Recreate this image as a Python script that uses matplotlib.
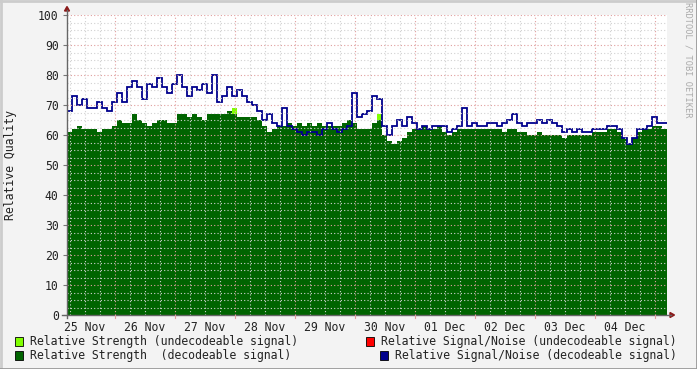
import numpy as np
import matplotlib
matplotlib.use("Agg")
import matplotlib.pyplot as plt
from matplotlib.patches import Rectangle, Polygon
from matplotlib.lines import Line2D

# ---- data (2-hour steps starting 25 Nov 04:48) ----
strength_decodeable = [
    61, 62, 63, 62, 62, 62, 61, 62, 62, 63, 65, 64, 64, 67, 65, 64, 63, 64, 65, 65,
    64, 64, 67, 67, 66, 67, 66, 65, 67, 67, 67, 67, 68, 67, 66, 66, 66, 66, 65, 63,
    61, 62, 63, 63, 64, 63, 64, 63, 64, 63, 64, 63, 63, 63, 63, 64, 65, 64, 62, 62,
    62, 64, 65, 60, 58, 57, 58, 59, 61, 62, 62, 63, 62, 62, 63, 61, 60, 61, 62, 62,
    62, 62, 62, 62, 62, 62, 62, 61, 62, 62, 61, 61, 60, 60, 61, 60, 60, 60, 60, 59,
    60, 60, 60, 60, 60, 61, 61, 61, 62, 62, 61, 59, 57, 59, 61, 62, 62, 63, 63, 62,
]
snr_decodeable = [
    68, 73, 70, 72, 69, 69, 71, 69, 68, 71, 74, 71, 76, 78, 76, 72, 77, 76, 79, 76,
    74, 77, 80, 76, 73, 76, 75, 77, 74, 80, 71, 73, 76, 73, 75, 73, 71, 70, 68, 65,
    67, 64, 63, 69, 63, 62, 61, 60, 61, 61, 60, 62, 64, 62, 61, 62, 63, 74, 66, 67,
    68, 73, 72, 63, 60, 63, 65, 63, 66, 64, 62, 63, 62, 63, 63, 63, 61, 62, 63, 69,
    63, 64, 63, 63, 64, 64, 63, 64, 65, 67, 64, 63, 64, 64, 65, 64, 65, 64, 63, 61,
    62, 61, 62, 61, 61, 62, 62, 62, 63, 63, 62, 59, 57, 59, 62, 62, 63, 66, 64, 64,
]
strength_undecodeable = [
    0, 0, 0, 0, 0, 0, 0, 0, 0, 0, 0, 0, 0, 0, 0, 0, 0, 0, 0, 0,
    0, 0, 0, 0, 0, 0, 0, 0, 0, 0, 0, 0, 0, 69, 0, 0, 0, 0, 0, 0,
    0, 0, 0, 0, 0, 0, 0, 0, 0, 0, 0, 0, 0, 0, 0, 0, 0, 0, 0, 0,
    0, 0, 67, 0, 0, 0, 0, 0, 0, 0, 0, 0, 0, 0, 0, 0, 0, 0, 0, 0,
    0, 0, 0, 0, 0, 0, 0, 0, 0, 0, 0, 0, 0, 0, 0, 0, 0, 0, 0, 0,
    0, 0, 0, 0, 0, 0, 0, 0, 0, 0, 0, 0, 0, 0, 0, 0, 0, 0, 0, 0,
]
snr_undecodeable = [0] * 120

day_labels = ["25 Nov", "26 Nov", "27 Nov", "28 Nov", "29 Nov",
              "30 Nov", "01 Dec", "02 Dec", "03 Dec", "04 Dec"]
y_ticks = [0, 10, 20, 30, 40, 50, 60, 70, 80, 90, 100]

t_start, t_end = 0.2, 10.2  # days since 25 Nov 00:00
edges = np.linspace(t_start, t_end, len(strength_decodeable) + 1)

W, H = 697, 369
BG = "#F3F3F3"
fig = plt.figure(figsize=(W / 100, H / 100), dpi=100, facecolor=BG)

def fx(x):
    return x / W

def fy(y):
    return 1 - y / H

x0, x1, ytop, ybot = 67, 667, 15, 315
ax = fig.add_axes([fx(x0), fy(ybot), fx(x1) - fx(x0), fy(ytop) - fy(ybot)])
ax.set_facecolor("white")
ax.set_xlim(t_start, t_end)
ax.set_ylim(0, 100)
for s in ax.spines.values():
    s.set_visible(False)

mono = "DejaVu Sans Mono"
fs = 8.3

# data
und = np.array(strength_undecodeable, dtype=float)
ax.stairs(und, edges, fill=True, color="#80FF00", baseline=0, zorder=1)
ax.stairs(strength_decodeable, edges, fill=True, color="#006400", baseline=0, zorder=2)
ax.stairs(snr_undecodeable, edges, color="#FF0000", linewidth=0, baseline=None, zorder=2.5)
ax.stairs(snr_decodeable, edges, color="#00008C", linewidth=1.3, baseline=None, zorder=3)

# grid (drawn on top like rrdtool)
minor_col = (0.82, 0.82, 0.82)
major_col = (0.88, 0.62, 0.62)
for v in np.arange(0, 100.01, 2.5):
    if v % 10 != 0:
        ax.axhline(v, color=minor_col, lw=0.8, ls=(0, (1, 2)), zorder=4)
for v in np.arange(0.25, 10.21, 0.25):
    if abs(v - round(v)) > 1e-6:
        ax.axvline(v, color=minor_col, lw=0.8, ls=(0, (1, 2)), zorder=4)
for v in y_ticks[1:]:
    ax.axhline(v, color=major_col, lw=0.8, ls=(0, (1, 2)), zorder=4.5)
for d in range(1, 11):
    ax.axvline(d, color=major_col, lw=0.8, ls=(0, (1, 2)), zorder=4.5)

# ticks
ax.set_yticks(y_ticks)
ax.set_yticklabels([str(v) for v in y_ticks], fontfamily=mono, fontsize=fs, color="#222222")
ax.tick_params(axis="y", length=3, width=0.8, color="#777777", pad=3)
ax.set_xticks(np.arange(0.5, 10, 1.0))
ax.set_xticklabels(day_labels, fontfamily=mono, fontsize=fs, color="#222222")
ax.tick_params(axis="x", length=0, pad=4)

# axis lines and arrows
axis_col = "#666666"
arrow_col = "#8B1A1A"
fig.add_artist(Line2D([fx(x0), fx(x0)], [fy(318), fy(10)], color=axis_col, lw=1.0))
fig.add_artist(Line2D([fx(62), fx(671)], [fy(ybot), fy(ybot)], color=axis_col, lw=1.0))
fig.add_artist(Polygon([[fx(64.5), fy(11)], [fx(69.5), fy(11)], [fx(67), fy(6.5)]],
                       closed=True, color=arrow_col, transform=fig.transFigure))
fig.add_artist(Polygon([[fx(670), fy(312.5)], [fx(670), fy(317.5)], [fx(674.5), fy(315)]],
                       closed=True, color=arrow_col, transform=fig.transFigure))
for d in range(1, 11):
    xp = x0 + (d - t_start) / (t_end - t_start) * (x1 - x0)
    fig.add_artist(Line2D([fx(xp), fx(xp)], [fy(315), fy(318)], color=major_col, lw=0.8))

# y label
fig.text(fx(11), fy(165), "Relative Quality", rotation=90, ha="center", va="center",
         fontfamily=mono, fontsize=fs, color="#222222")

# watermark
fig.text(fx(688), fy(60), "RRDTOOL / TOBI OETIKER", rotation=-90, ha="center", va="center",
         fontfamily=mono, fontsize=6.2, color="#AAAAAA")

# legend
def legend_item(xs, yc, color, label):
    fig.add_artist(Rectangle((fx(xs), fy(yc + 4.5)), 8 / W, 9 / H, facecolor=color,
                             edgecolor="black", lw=0.6, transform=fig.transFigure))
    fig.text(fx(xs + 15), fy(yc), label, ha="left", va="center",
             fontfamily=mono, fontsize=fs, color="#222222")

legend_item(15, 341, "#80FF00", "Relative Strength (undecodeable signal)")
legend_item(366, 341, "#FF0000", "Relative Signal/Noise (undecodeable signal)")
legend_item(15, 355, "#006400", "Relative Strength  (decodeable signal)")
legend_item(380, 355, "#00008C", "Relative Signal/Noise (decodeable signal)")

# outer frame
fig.add_artist(Line2D([0, 1], [fy(0.5), fy(0.5)], color="#CCCCCC", lw=2))
fig.add_artist(Line2D([fx(0.5), fx(0.5)], [0, 1], color="#CCCCCC", lw=2))
fig.add_artist(Line2D([0, 1], [fy(368.5), fy(368.5)], color="#999999", lw=2))
fig.add_artist(Line2D([fx(696.5), fx(696.5)], [0, 1], color="#999999", lw=2))

fig.savefig("out.png", dpi=100, facecolor=BG)
